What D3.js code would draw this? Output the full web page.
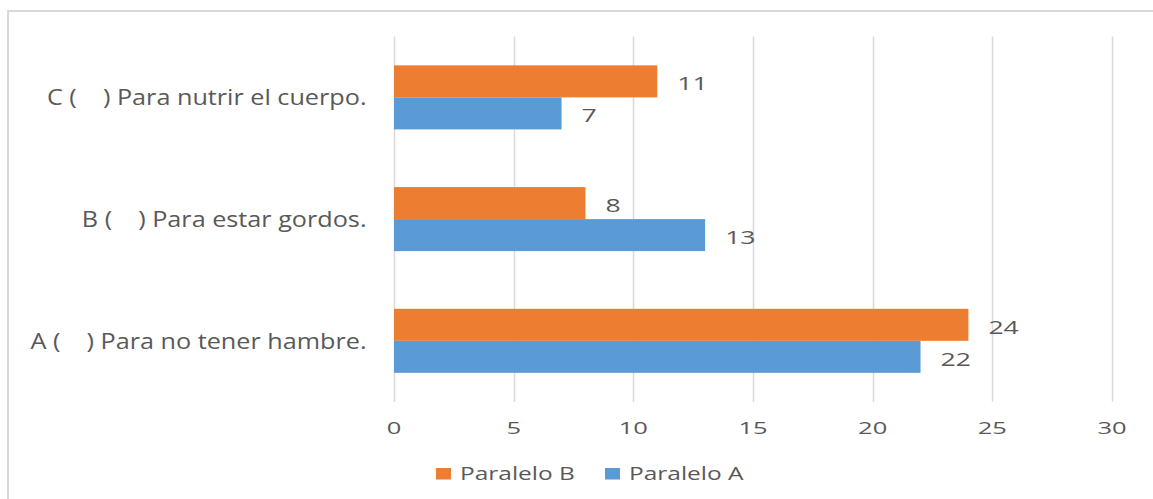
<!DOCTYPE html>
<html>
<head>
<meta charset="utf-8">
<script src="https://cdn.jsdelivr.net/npm/d3@7"></script>
<style>
  html, body { margin: 0; padding: 0; background: #fff; }
  svg { display: block; }
  text { font-family: "Open Sans", "Noto Sans", sans-serif; fill: #595959; white-space: pre; }
</style>
</head>
<body>
<svg id="chart" width="1153" height="499"></svg>
<script>
// Categories, top to bottom
const categories = [
  "C (    ) Para nutrir el cuerpo.",
  "B (    ) Para estar gordos.",
  "A (    ) Para no tener hambre."
];
// Series (Paralelo B is drawn above Paralelo A inside each group)
const seriesNames = ["Paralelo B", "Paralelo A"];
const paraleloB = [11, 8, 24];
const paraleloA = [7, 13, 22];
const xTicks = [0, 5, 10, 15, 20, 25, 30];
const colors = { "Paralelo B": "#ED7D31", "Paralelo A": "#5B9BD5" };

const svg = d3.select("#chart");
const W = 1153, H = 499;

// outer frame
svg.append("rect")
  .attr("x", 8).attr("y", 11)
  .attr("width", W).attr("height", H)
  .attr("fill", "#fff").attr("stroke", "#d9d9d9").attr("stroke-width", 2);

const plot = { left: 394, right: 1112, top: 36.5, bottom: 401.7 };

const x = d3.scaleLinear().domain([0, 30]).range([plot.left, plot.right]);
const y = d3.scaleBand().domain(categories)
  .range([plot.top, plot.bottom])
  .paddingInner(0.474).paddingOuter(0.237);
const ySub = d3.scaleBand().domain(seriesNames).range([0, y.bandwidth()]);

// horizontally widened text
function label(parent, tx, ty, str, size, anchor, sx) {
  const g = parent.append("g").attr("transform", `translate(${tx},${ty}) scale(${sx},1)`);
  g.append("text").attr("font-size", size).attr("text-anchor", anchor || "start").text(str);
  return g;
}

// gridlines
svg.append("g").selectAll("line").data(xTicks).join("line")
  .attr("x1", d => Math.round(x(d)) + 0.5).attr("x2", d => Math.round(x(d)) + 0.5)
  .attr("y1", plot.top).attr("y2", plot.bottom)
  .attr("stroke", "#d9d9d9").attr("stroke-width", 1.5);

// x tick labels
const tickG = svg.append("g");
xTicks.forEach(t => label(tickG, x(t), 433.5, String(t), 17, "middle", 1.5));

// bars with value labels
const rows = categories.map((c, i) => ({ cat: c, values: { "Paralelo B": paraleloB[i], "Paralelo A": paraleloA[i] } }));
const barsG = svg.append("g");
const valG = svg.append("g");
rows.forEach(r => {
  seriesNames.forEach(s => {
    const v = r.values[s];
    const y0 = y(r.cat) + ySub(s);
    barsG.append("rect")
      .attr("x", x(0)).attr("y", y0)
      .attr("width", x(v) - x(0)).attr("height", ySub.bandwidth())
      .attr("fill", colors[s]);
    label(valG, x(v) + 20, y0 + ySub.bandwidth() / 2 + 9, String(v), 19, "start", 1.4);
  });
});

// category labels
const catG = svg.append("g");
categories.forEach(c => label(catG, 366.5, y(c) + y.bandwidth() / 2 + 8, c, 21, "end", 1.2));

// legend
const legendItems = [
  { name: "Paralelo B", sx: 436, tx: 460 },
  { name: "Paralelo A", sx: 605, tx: 629 }
];
const legG = svg.append("g");
legendItems.forEach(it => {
  legG.append("rect").attr("x", it.sx).attr("y", 468).attr("width", 15).attr("height", 11.5)
    .attr("fill", colors[it.name]);
  label(legG, it.tx, 480, it.name, 17.5, "start", 1.4);
});
</script>
</body>
</html>
